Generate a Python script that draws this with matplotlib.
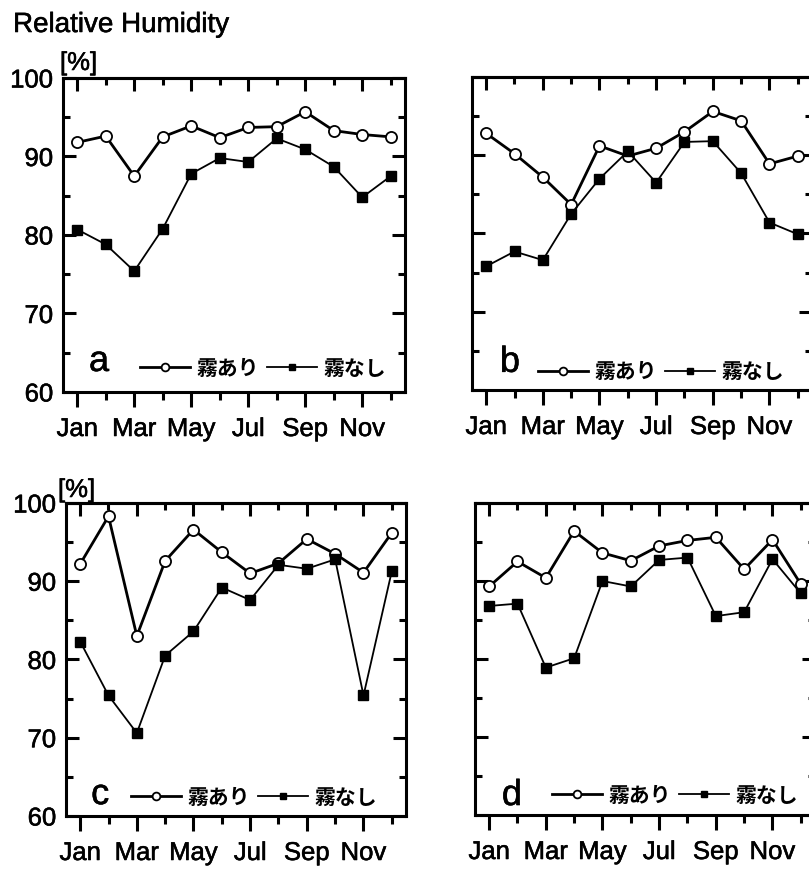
import matplotlib
matplotlib.use("Agg")
import matplotlib.pyplot as plt
import matplotlib.patheffects as pe
from matplotlib.ticker import MultipleLocator, FixedLocator, NullFormatter

plt.rcParams['font.family'] = ['Liberation Sans', 'Noto Sans CJK JP', 'DejaVu Sans']

months = list(range(1, 13))
month_ticks = [1, 3, 5, 7, 9, 11]
month_labels = ['Jan', 'Mar', 'May', 'Jul', 'Sep', 'Nov']
series_labels = ['霧あり', '霧なし']
panel_letters = ['a', 'b', 'c', 'd']

a_fog = [91.8, 92.6, 87.5, 92.5, 93.9, 92.4, 93.7, 93.8, 95.7, 93.3, 92.8, 92.5]
a_nofog = [80.7, 78.8, 75.4, 80.8, 87.8, 89.8, 89.3, 92.3, 90.9, 88.7, 84.8, 87.5]
b_fog = [92.8, 90.2, 87.2, 83.7, 91.2, 89.9, 90.9, 93.0, 95.6, 94.4, 88.9, 89.9]
b_nofog = [75.8, 77.7, 76.6, 82.5, 87.0, 90.5, 86.5, 91.7, 91.8, 87.7, 81.4, 79.9]
c_fog = [92.2, 98.3, 83.0, 92.6, 96.6, 93.7, 91.0, 92.3, 95.4, 93.5, 91.1, 96.2]
c_nofog = [82.3, 75.4, 70.6, 80.5, 83.6, 89.2, 87.6, 92.1, 91.6, 92.8, 75.4, 91.3]
d_fog = [89.3, 92.5, 90.4, 96.4, 93.6, 92.6, 94.5, 95.2, 95.6, 91.5, 95.3, 89.6]
d_nofog = [86.8, 87.1, 78.9, 80.1, 90.0, 89.3, 92.7, 93.0, 85.5, 86.0, 92.8, 88.4]

W, H = 809, 871
fig = plt.figure(figsize=(W / 100, H / 100), dpi=100)
heavy = [pe.withStroke(linewidth=0.4, foreground='black')]


def px_axes(left, top, right, bottom):
    return fig.add_axes([left / W, (H - bottom) / H, (right - left) / W, (bottom - top) / H])


panels = [
    dict(box=(63, 78, 405, 392), fog=a_fog, nofog=a_nofog, ylab=True,
         leg=(0.225, 0.076), let=(0.076, 0.067)),
    dict(box=(472, 77, 812, 390), fog=b_fog, nofog=b_nofog, ylab=False,
         leg=(0.194, 0.058), let=(0.082, 0.058)),
    dict(box=(66, 503, 406, 816), fog=c_fog, nofog=c_nofog, ylab=True,
         leg=(0.191, 0.061), let=(0.074, 0.038)),
    dict(box=(475, 503, 815, 815), fog=d_fog, nofog=d_nofog, ylab=False,
         leg=(0.226, 0.064), let=(0.079, 0.032)),
]

tick_fs = 18.5
lw_sp = 2.2

for p, letter in zip(panels, panel_letters):
    ax = px_axes(*p['box'])
    l1, = ax.plot(months, p['fog'], color='black', lw=2.0, marker='o', ms=8,
                  mfc='white', mec='black', mew=1.3, zorder=3, label=series_labels[0])
    l2, = ax.plot(months, p['nofog'], color='black', lw=1.3, marker='s', ms=7,
                  mfc='black', mec='black', zorder=4, label=series_labels[1])
    ax.set_xlim(0.5, 12.5)
    ax.set_ylim(60, 100)
    for s in ax.spines.values():
        s.set_linewidth(lw_sp)
    # x axis: bottom outward ticks
    ax.xaxis.set_major_locator(FixedLocator(month_ticks))
    ax.xaxis.set_minor_locator(FixedLocator([2, 4, 6, 8, 10, 12]))
    ax.set_xticklabels(month_labels)
    ax.tick_params(axis='x', which='major', direction='out', length=10.5, width=lw_sp,
                   labelsize=tick_fs, pad=7.5, top=False)
    ax.tick_params(axis='x', which='minor', direction='out', length=5.5, width=lw_sp, top=False)
    # top inward ticks
    sec = ax.secondary_xaxis('top')
    sec.xaxis.set_major_locator(FixedLocator(month_ticks))
    sec.xaxis.set_minor_locator(FixedLocator([2, 4, 6, 8, 10, 12]))
    sec.xaxis.set_major_formatter(NullFormatter())
    sec.tick_params(which='major', direction='in', length=9.5, width=lw_sp)
    sec.tick_params(which='minor', direction='in', length=5, width=lw_sp)
    sec.spines['top'].set_linewidth(lw_sp)
    # y axis inward both sides
    ax.yaxis.set_major_locator(MultipleLocator(10))
    ax.yaxis.set_minor_locator(MultipleLocator(5))
    ax.tick_params(axis='y', which='major', direction='in', length=9.5, width=lw_sp,
                   labelsize=tick_fs, pad=7, right=True, left=True, labelleft=p['ylab'])
    ax.tick_params(axis='y', which='minor', direction='in', length=5, width=lw_sp,
                   right=True, left=True)
    for t in ax.get_xticklabels() + ax.get_yticklabels():
        t.set_path_effects(heavy)
    leg = ax.legend(handles=[l1, l2], loc='center left', bbox_to_anchor=p['leg'],
                    ncol=2, frameon=False, borderpad=0, borderaxespad=0,
                    handlelength=2.4, handletextpad=0.3, columnspacing=0.4,
                    markerscale=0.7,
                    prop=dict(family=['Noto Sans CJK JP', 'DejaVu Sans'], weight='bold', size=15))
    ax.text(p['let'][0], p['let'][1], letter, transform=ax.transAxes, fontsize=26,
            ha='left', va='baseline', path_effects=heavy)

fig.text(13 / W, (H - 32) / H, 'Relative Humidity', fontsize=20, ha='left', va='baseline',
         path_effects=heavy)
fig.text(60 / W, (H - 70) / H, '[%]', fontsize=18.5, ha='left', va='baseline', path_effects=heavy)
fig.text(58 / W, (H - 497) / H, '[%]', fontsize=18.5, ha='left', va='baseline', path_effects=heavy)

fig.savefig('out.png', dpi=100)
